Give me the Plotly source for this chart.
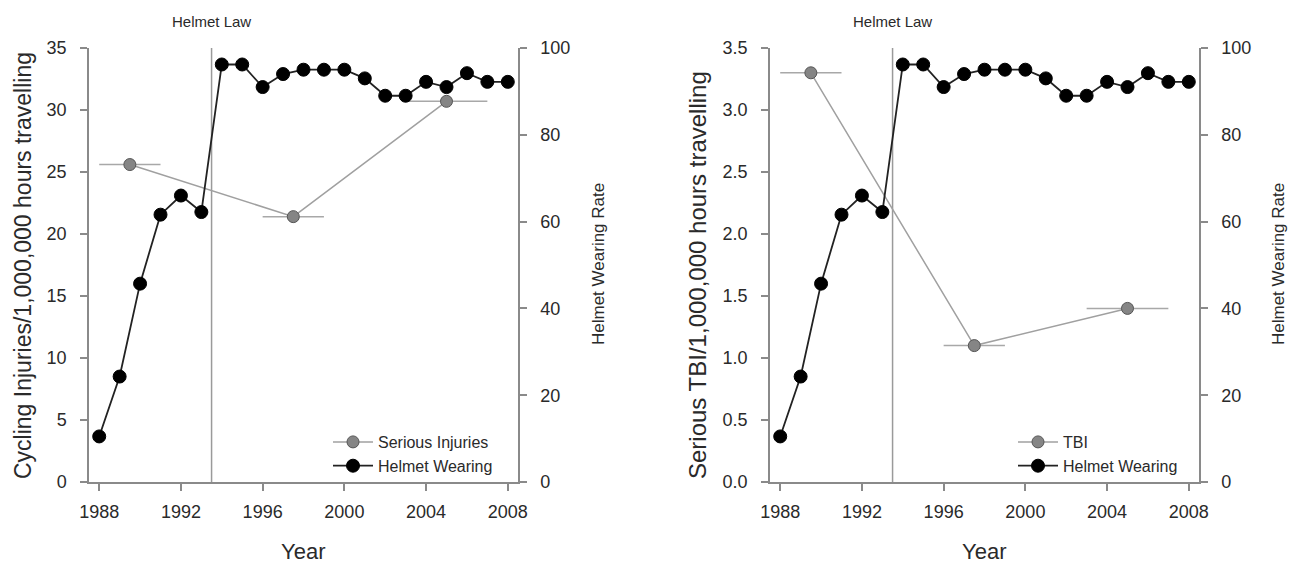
import plotly.graph_objects as go

# ---- data ----
years = list(range(1988, 2009))
helmet_rate = [10.5, 24.3, 45.7, 61.6, 66.0, 62.2, 96.2, 96.2, 91.0, 94.0, 95.0,
               95.0, 95.0, 93.0, 89.0, 89.0, 92.2, 91.0, 94.2, 92.2, 92.2]
period_mid = [1989.5, 1997.5, 2005.0]
period_halfwidth = [1.5, 1.5, 2.0]
serious_injuries = [25.6, 21.4, 30.7]
tbi = [3.30, 1.10, 1.40]
law_year = 1993.5
x_ticks = [1988, 1992, 1996, 2000, 2004, 2008]
left_ticks = [0, 5, 10, 15, 20, 25, 30, 35]
tbi_ticks = [0.0, 0.5, 1.0, 1.5, 2.0, 2.5, 3.0, 3.5]
rate_ticks = [0, 20, 40, 60, 80, 100]

# page is 1296x563; the html body has an 8px margin at top/left
OFF = 8
FW, FH = 1296 - OFF, 563 - OFF


def px(x):
    return (x - OFF) / FW


def py(y):
    return 1 - (y - OFF) / FH


FONT = "Liberation Sans, Arial, sans-serif"
TXT = "#2a2a2a"
AX = "#8a8a8a"

fig = go.Figure()

gray_marker = dict(size=12, color="#858585", line=dict(color="#555555", width=1))
black_marker = dict(size=13, color="#000000", line=dict(color="#000000", width=1))

# left panel
fig.add_trace(go.Scatter(
    x=period_mid, y=serious_injuries, mode="lines+markers", name="Serious Injuries",
    line=dict(color="#a0a0a0", width=1.5), marker=gray_marker,
    error_x=dict(type="data", array=period_halfwidth, color="#a8a8a8", thickness=1.5, width=0),
    xaxis="x", yaxis="y", legend="legend"))
fig.add_trace(go.Scatter(
    x=years, y=helmet_rate, mode="lines+markers", name="Helmet Wearing",
    line=dict(color="#222222", width=1.8), marker=black_marker,
    xaxis="x", yaxis="y2", legend="legend"))

# right panel
fig.add_trace(go.Scatter(
    x=period_mid, y=tbi, mode="lines+markers", name="TBI",
    line=dict(color="#a0a0a0", width=1.5), marker=gray_marker,
    error_x=dict(type="data", array=period_halfwidth, color="#a8a8a8", thickness=1.5, width=0),
    xaxis="x2", yaxis="y3", legend="legend2"))
fig.add_trace(go.Scatter(
    x=years, y=helmet_rate, mode="lines+markers", name="Helmet Wearing",
    line=dict(color="#222222", width=1.8), marker=black_marker,
    xaxis="x2", yaxis="y4", legend="legend2"))

ydom = [py(482), py(48)]
common = dict(showline=True, linecolor=AX, linewidth=1.5, ticks="outside", ticklen=7,
              tickcolor=AX, tickwidth=1.5, showgrid=False, zeroline=False, automargin=False,
              tickfont=dict(family=FONT, size=18, color=TXT))
xcommon = dict(common, ticklabelstandoff=6)
ycommon = dict(common, ticklabelstandoff=10)

legend_style = dict(xanchor="left", yanchor="top", bgcolor="rgba(0,0,0,0)",
                    font=dict(family=FONT, size=16, color=TXT), tracegroupgap=0,
                    itemwidth=40)

fig.update_layout(
    width=FW, height=FH, margin=dict(l=0, r=0, t=0, b=0, autoexpand=False),
    paper_bgcolor="white", plot_bgcolor="white",
    font=dict(family=FONT, color=TXT),
    xaxis=dict(domain=[px(89), px(518)], anchor="y", range=[1987.5, 2008.5],
               tickvals=x_ticks, **xcommon),
    yaxis=dict(domain=ydom, anchor="x", range=[0, 35], tickvals=left_ticks, **ycommon),
    yaxis2=dict(overlaying="y", anchor="x", side="right", range=[0, 100],
                tickvals=rate_ticks, **ycommon),
    xaxis2=dict(domain=[px(770), px(1199)], anchor="y3", range=[1987.5, 2008.5],
                tickvals=x_ticks, **xcommon),
    yaxis3=dict(domain=ydom, anchor="x2", range=[0, 3.5], tickvals=tbi_ticks,
                tickformat=".1f", **ycommon),
    yaxis4=dict(overlaying="y3", anchor="x2", side="right", range=[0, 100],
                tickvals=rate_ticks, **ycommon),
    legend=dict(x=px(328), y=py(425), **legend_style),
    legend2=dict(x=px(1013), y=py(425), **legend_style),
    showlegend=True,
)

ann = dict(showarrow=False, xanchor="center", yanchor="middle")

for xr in ["x", "x2"]:
    yr = "y" if xr == "x" else "y3"
    fig.add_shape(type="line", xref=xr, yref=f"{yr} domain", x0=law_year, x1=law_year,
                  y0=0, y1=1, line=dict(color="#9a9a9a", width=1.5), layer="below")
    fig.add_annotation(xref=xr, yref="paper", x=law_year, y=py(22), text="Helmet Law",
                       font=dict(family=FONT, size=15, color=TXT), **ann)

# axis titles
fig.add_annotation(xref="paper", yref="paper", x=px(23), y=py(266),
                   text="Cycling Injuries/1,000,000 hours travelling", textangle=-90,
                   font=dict(family=FONT, size=23, color=TXT), **ann)
fig.add_annotation(xref="paper", yref="paper", x=px(697), y=py(275),
                   text="Serious TBI/1,000,000 hours travelling", textangle=-90,
                   font=dict(family=FONT, size=24, color=TXT), **ann)
for xp in [599, 1279]:
    fig.add_annotation(xref="paper", yref="paper", x=px(xp), y=py(264),
                       text="Helmet Wearing Rate", textangle=-90,
                       font=dict(family=FONT, size=17, color=TXT), **ann)
for xp in [303, 984]:
    fig.add_annotation(xref="paper", yref="paper", x=px(xp), y=py(551),
                       text="Year", font=dict(family=FONT, size=22, color=TXT), **ann)

fig.write_html("out.html")
